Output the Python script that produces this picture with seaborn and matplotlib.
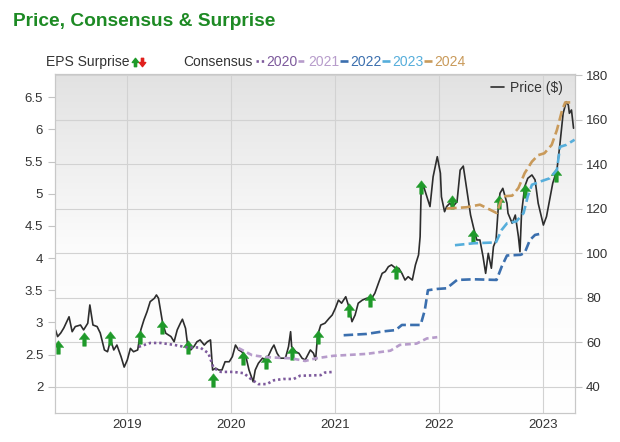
import numpy as np
import matplotlib
matplotlib.use('Agg')
import matplotlib.pyplot as plt
import seaborn as sns
from matplotlib.path import Path
from matplotlib.lines import Line2D
from matplotlib.colors import LinearSegmentedColormap
from matplotlib.ticker import FuncFormatter

# 株価 (右軸, $) - 時刻は年の小数表記
price_year = [2018.31, 2018.33, 2018.36, 2018.39, 2018.44, 2018.47, 2018.50, 2018.55, 2018.58, 2018.62,
              2018.64, 2018.67, 2018.71, 2018.74, 2018.78, 2018.81, 2018.84, 2018.87, 2018.90, 2018.94,
              2018.97, 2019.00, 2019.03, 2019.06, 2019.10, 2019.13, 2019.16, 2019.19, 2019.22, 2019.26,
              2019.28, 2019.30, 2019.34, 2019.37, 2019.42, 2019.45, 2019.48, 2019.51, 2019.53, 2019.56,
              2019.58, 2019.61, 2019.64, 2019.67, 2019.70, 2019.74, 2019.77, 2019.80, 2019.82, 2019.85,
              2019.88, 2019.91, 2019.94, 2019.98, 2020.01, 2020.04, 2020.07, 2020.10, 2020.14, 2020.17,
              2020.21, 2020.23, 2020.26, 2020.30, 2020.33, 2020.36, 2020.39, 2020.41, 2020.44, 2020.47,
              2020.52, 2020.55, 2020.57, 2020.58, 2020.62, 2020.65, 2020.68, 2020.71, 2020.76, 2020.79,
              2020.81, 2020.83, 2020.86, 2020.90, 2020.94, 2020.97, 2021.00, 2021.03, 2021.06, 2021.10,
              2021.13, 2021.16, 2021.19, 2021.22, 2021.26, 2021.30, 2021.35, 2021.38, 2021.42, 2021.45,
              2021.48, 2021.51, 2021.54, 2021.58, 2021.61, 2021.64, 2021.67, 2021.70, 2021.74, 2021.77,
              2021.80, 2021.815, 2021.825, 2021.85, 2021.88, 2021.91, 2021.94, 2021.98, 2022.01, 2022.02,
              2022.05, 2022.07, 2022.10, 2022.13, 2022.17, 2022.20, 2022.23, 2022.26, 2022.30, 2022.33,
              2022.36, 2022.39, 2022.42, 2022.445, 2022.47, 2022.50, 2022.52, 2022.545, 2022.567, 2022.583,
              2022.61, 2022.65, 2022.66, 2022.70, 2022.73, 2022.76, 2022.775, 2022.79, 2022.82, 2022.85,
              2022.89, 2022.92, 2022.95, 2022.98, 2023.00, 2023.03, 2023.06, 2023.09, 2023.13, 2023.16,
              2023.19, 2023.22, 2023.24, 2023.25, 2023.27, 2023.29]
price_val = [65.5, 62.5, 64.1, 66.4, 71.4, 64.7, 67.0, 67.7, 65.5, 68.5,
             76.7, 67.7, 67.0, 64.1, 56.5, 55.7, 61.0, 56.5, 58.7, 53.5,
             48.8, 52.0, 57.2, 55.7, 56.5, 65.5, 70.0, 73.7, 78.2, 79.7,
             81.2, 79.7, 68.5, 64.0, 62.5, 60.2, 65.5, 68.5, 70.3, 66.2,
             58.7, 56.5, 58.0, 60.2, 61.0, 58.7, 60.2, 61.0, 47.5, 48.3,
             47.5, 47.5, 51.2, 51.2, 53.5, 58.7, 56.5, 55.7, 53.5, 47.5,
             42.2, 47.5, 50.5, 52.8, 52.0, 54.2, 57.2, 58.7, 55.0, 52.8,
             52.8, 58.0, 64.7, 58.0, 55.7, 55.0, 52.8, 52.0, 56.5, 55.0,
             52.0, 63.2, 67.7, 68.5, 70.7, 72.2, 75.2, 78.9, 77.5, 80.4,
             75.9, 69.2, 72.2, 77.5, 78.9, 79.7, 79.7, 82.0, 87.2, 90.9,
             91.7, 93.9, 94.7, 93.2, 93.2, 90.9, 87.9, 89.4, 87.9, 94.7,
             99.2, 107.4, 128.4, 129.8, 125.3, 120.9, 134.3, 143.3, 135.9, 125.3,
             118.6, 120.9, 122.4, 120.9, 123.1, 137.3, 139.1, 129.8, 117.1, 111.2,
             105.9, 105.9, 98.4, 90.9, 99.9, 93.2, 102.9, 105.9, 120.9, 126.9,
             129.1, 122.4, 117.9, 113.4, 117.1, 107.4, 100.6, 117.9, 129.8, 133.6,
             135.1, 132.9, 122.4, 116.4, 112.6, 116.4, 123.9, 131.4, 137.3, 149.3,
             162.8, 168.0, 166.5, 162.8, 164.3, 156.1]

# EPSサプライズ (上向き矢印)
surprise_year = [2018.33, 2018.58, 2018.83, 2019.12, 2019.33, 2019.58, 2019.82, 2020.11, 2020.33, 2020.58,
                 2020.83, 2021.13, 2021.33, 2021.58, 2021.82, 2022.12, 2022.32, 2022.57, 2022.82, 2023.12]
surprise_price = [58.0, 61.4, 61.7, 62.5, 66.7, 58.0, 43.0, 52.8, 51.2, 55.0,
                  62.5, 74.5, 78.9, 91.4, 129.5, 123.1, 107.7, 123.0, 127.9, 134.9]

# コンセンサス予想 (左軸, EPS)
c2020_year = [2019.11, 2019.22, 2019.32, 2019.45, 2019.58, 2019.70, 2019.78, 2019.83, 2019.90, 2020.02,
              2020.12, 2020.18, 2020.26, 2020.34, 2020.41, 2020.50, 2020.60, 2020.66, 2020.86, 2020.90, 2020.98]
c2020_eps = [2.62, 2.68, 2.68, 2.65, 2.61, 2.61, 2.52, 2.29, 2.23, 2.23,
             2.21, 2.13, 2.04, 2.04, 2.10, 2.12, 2.12, 2.17, 2.18, 2.22, 2.23]
c2021_year = [2020.07, 2020.20, 2020.33, 2020.58, 2020.71, 2020.81, 2020.98, 2021.30, 2021.53, 2021.62,
              2021.78, 2021.88, 2021.98]
c2021_eps = [2.60, 2.49, 2.46, 2.44, 2.40, 2.44, 2.48, 2.51, 2.56, 2.65, 2.67, 2.75, 2.77]
c2022_year = [2021.08, 2021.30, 2021.46, 2021.58, 2021.64, 2021.82, 2021.86, 2021.89, 2021.98, 2022.07,
              2022.17, 2022.33, 2022.55, 2022.60, 2022.65, 2022.78, 2022.82, 2022.87, 2022.92, 2022.98]
c2022_eps = [2.80, 2.82, 2.86, 2.88, 2.96, 2.96, 3.19, 3.50, 3.52, 3.53,
             3.66, 3.67, 3.66, 3.87, 4.04, 4.05, 4.08, 4.28, 4.36, 4.38]
c2023_year = [2022.15, 2022.33, 2022.49, 2022.54, 2022.60, 2022.65, 2022.74, 2022.81, 2022.85, 2022.89,
              2022.97, 2023.06, 2023.13, 2023.16, 2023.22, 2023.30]
c2023_eps = [4.20, 4.23, 4.24, 4.23, 4.44, 4.54, 4.57, 4.70, 4.96, 5.14,
             5.19, 5.24, 5.37, 5.73, 5.76, 5.84]
c2024_year = [2022.07, 2022.26, 2022.39, 2022.49, 2022.55, 2022.61, 2022.70, 2022.76, 2022.82, 2022.89,
              2022.95, 2023.01, 2023.08, 2023.13, 2023.18, 2023.21, 2023.29]
c2024_eps = [4.77, 4.79, 4.83, 4.75, 4.70, 4.96, 4.97, 5.09, 5.32, 5.50,
             5.60, 5.63, 5.76, 5.99, 6.30, 6.42, 6.42]

years = [2019, 2020, 2021, 2022, 2023]
eps_ticks = [2, 2.5, 3, 3.5, 4, 4.5, 5, 5.5, 6, 6.5]
price_ticks = [40, 60, 80, 100, 120, 140, 160, 180]

consensus = [
    ('2020', c2020_year, c2020_eps, '#7d5a9c', (0, (0.9, 1.1))),
    ('2021', c2021_year, c2021_eps, '#b79ccb', (0, (2.2, 1.4))),
    ('2022', c2022_year, c2022_eps, '#3b6fae', (0, (3.6, 1.6))),
    ('2023', c2023_year, c2023_eps, '#56aedb', (0, (3.6, 1.6))),
    ('2024', c2024_year, c2024_eps, '#c99a5a', (0, (3.8, 1.6))),
]

GREEN = '#1f9a2a'
RED = '#e0201c'

sns.set_style('white')
plt.rcParams['font.family'] = ['Liberation Sans', 'DejaVu Sans']

W, H = 620, 442
fig = plt.figure(figsize=(W / 100, H / 100), dpi=100)
pos = [55 / W, 1 - 413 / H, (575 - 55) / W, (413 - 74) / H]

# 背景のグラデーション
bg = fig.add_axes(pos, zorder=0)
bg.imshow(np.linspace(0, 1, 256).reshape(-1, 1), aspect='auto', extent=(0, 1, 0, 1),
          cmap=LinearSegmentedColormap.from_list('bg', ['#e2e2e2', '#fbfbfb', '#ffffff']))
bg.axis('off')

ax = fig.add_axes(pos, zorder=2)   # EPS (左)
ax.patch.set_visible(False)
axp = ax.twinx()                   # 株価 (右)
axp.set_zorder(1)
axp.xaxis.set_visible(True)

# 矢印マーカー
verts = [(-0.78, 0.0), (0, 1), (0.78, 0.0), (0.27, 0.0), (0.27, -1), (-0.27, -1), (-0.27, 0.0), (-0.78, 0.0)]
codes = [Path.MOVETO] + [Path.LINETO] * 6 + [Path.CLOSEPOLY]
arrow_up = Path(verts, codes)
arrow_down = Path([(x, -y) for x, y in verts], codes)

# 株価とサプライズ
sns.lineplot(x=price_year, y=price_val, ax=axp, color='#2d2d2d', lw=1.2,
             estimator=None, sort=False, label='Price ($)')
sns.scatterplot(x=surprise_year, y=surprise_price, ax=axp, marker=arrow_up, s=95,
                color=GREEN, edgecolor=GREEN, linewidth=0.3, zorder=5, legend=False)

# コンセンサス
handles = []
for name, xs, ys, col, ls in consensus:
    sns.lineplot(x=xs, y=ys, ax=ax, color=col, lw=1.9, linestyle=ls,
                 estimator=None, sort=False, label=name)
    handles.append(ax.lines[-1])

ax.set_xlim(2018.305, 2023.304)
ax.set_ylim(1.591, 6.862)
axp.set_ylim(28.18, 180.45)

ax.set_yticks(eps_ticks)
ax.yaxis.set_major_formatter(FuncFormatter(lambda v, p: '{:g}'.format(v)))
axp.set_yticks(price_ticks)
axp.set_xticks(years)
axp.set_xticklabels([str(y) for y in years])
ax.tick_params(axis='x', labelbottom=False, length=0)

axp.grid(True, color='#d2d2d2', lw=0.8)
axp.set_axisbelow(True)
ax.grid(False)

ax.tick_params(axis='y', left=True, length=5, width=0.8, color='#c4c4c4',
               labelsize=9.5, labelcolor='#333333', pad=3.5)
axp.tick_params(axis='y', right=True, length=5, width=0.8, color='#c4c4c4',
                labelsize=9.5, labelcolor='#333333', pad=3)
axp.tick_params(axis='x', length=0, labelsize=9.5, labelcolor='#333333', pad=4)
for a in (ax, axp):
    for s in a.spines.values():
        s.set_color('#c8c8c8')
        s.set_linewidth(0.8)
    a.set_xlabel('')
    a.set_ylabel('')

# 凡例
axp.legend(loc='center right', bbox_to_anchor=(563 / W, 1 - 88 / H), bbox_transform=fig.transFigure,
           frameon=False, handlelength=0.9, handletextpad=0.45, borderpad=0, borderaxespad=0,
           fontsize=10, labelcolor='#333333')
ax.legend(handles, [c[0] for c in consensus], ncol=5, loc='center left',
          bbox_to_anchor=(256 / W, 1 - 62 / H), bbox_transform=fig.transFigure,
          frameon=False, handlelength=0.62, handletextpad=0.1, columnspacing=0.05,
          borderpad=0, borderaxespad=0, fontsize=10, labelcolor='linecolor')

fig.text(13 / W, 1 - 22 / H, 'Price, Consensus & Surprise', fontsize=13.8, fontweight='bold',
         color='#1d8a24', va='center', ha='left')
fig.text(46 / W, 1 - 62 / H, 'EPS Surprise', fontsize=10, color='#333333', va='center', ha='left')
fig.add_artist(Line2D([135 / W], [1 - 62 / H], transform=fig.transFigure, marker=arrow_up,
                      markersize=6, color=GREEN, lw=0))
fig.add_artist(Line2D([142 / W], [1 - 62 / H], transform=fig.transFigure, marker=arrow_down,
                      markersize=6, color=RED, lw=0))
fig.text(183 / W, 1 - 62 / H, 'Consensus', fontsize=10, color='#333333', va='center', ha='left')

fig.savefig('out.png', dpi=100)
